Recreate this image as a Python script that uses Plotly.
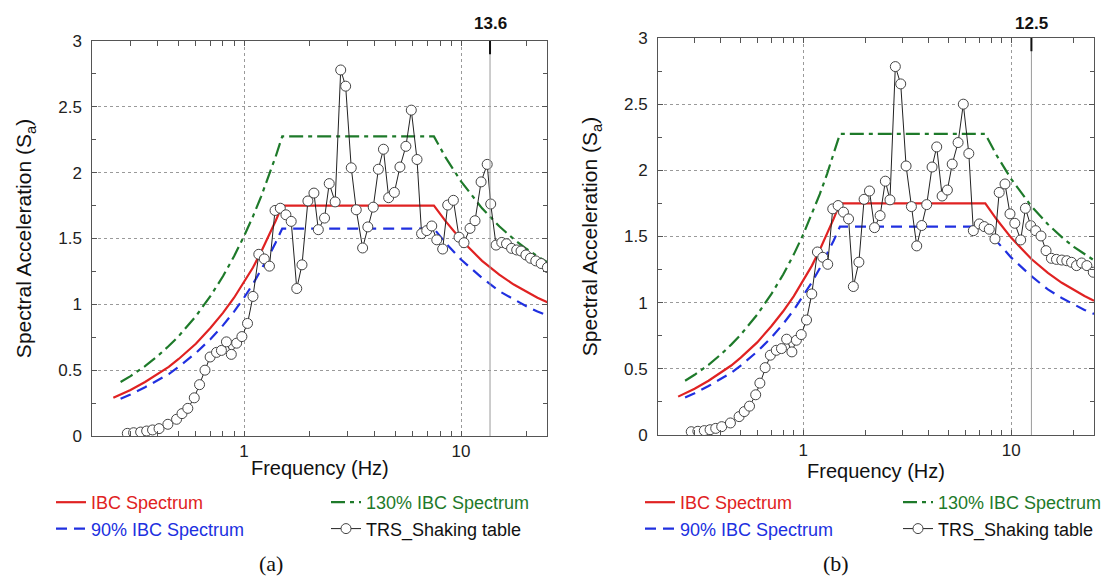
import math

import plotly.graph_objects as go

# ---- values -----------------------------------------------------------------
# IBC design spectrum (frequency in Hz, spectral acceleration Sa)
ibc_freq = [0.25, 0.3, 0.35, 0.4, 0.45, 0.5, 0.6, 0.7, 0.8, 0.9, 1.0, 1.1, 1.2, 1.3, 1.4, 1.5,
            7.5, 8.5, 10, 12.5, 15, 17.5, 20, 22.5, 25]
ibc_sa = [0.29, 0.35, 0.41, 0.47, 0.525, 0.585, 0.70, 0.82, 0.935, 1.05, 1.17, 1.28, 1.40, 1.52, 1.635, 1.75,
          1.75, 1.63, 1.49, 1.33, 1.225, 1.15, 1.095, 1.05, 1.015]

ibc90_freq = [0.27, 0.3, 0.35, 0.4, 0.45, 0.5, 0.6, 0.7, 0.8, 0.9, 1.0, 1.1, 1.2, 1.3, 1.4, 1.5,
              7.5, 8.5, 10, 12.5, 15, 17.5, 20, 22.5, 25]
ibc90_sa = [0.283, 0.315, 0.37, 0.42, 0.47, 0.525, 0.63, 0.735, 0.84, 0.945, 1.05, 1.155, 1.26, 1.365, 1.47, 1.575,
            1.575, 1.465, 1.34, 1.2, 1.10, 1.035, 0.985, 0.945, 0.915]

ibc130_freq = [0.27, 0.3, 0.35, 0.4, 0.45, 0.5, 0.6, 0.7, 0.8, 0.9, 1.0, 1.1, 1.2, 1.3, 1.4, 1.5,
               7.5, 8.5, 10, 12.5, 15, 17.5, 20, 22.5, 25]
ibc130_sa = [0.41, 0.455, 0.53, 0.607, 0.683, 0.758, 0.91, 1.062, 1.213, 1.365, 1.517, 1.668, 1.82, 1.972, 2.123, 2.275,
             2.275, 2.114, 1.934, 1.729, 1.593, 1.495, 1.422, 1.365, 1.32]

# test response spectrum, panel (a)
trs_a_freq = [0.290, 0.310, 0.334, 0.356, 0.379, 0.406, 0.446, 0.489, 0.518, 0.551,
              0.590, 0.624, 0.661, 0.698, 0.747, 0.787, 0.830, 0.874, 0.925, 0.978,
              1.038, 1.10, 1.17, 1.24, 1.31, 1.39, 1.47, 1.56, 1.65, 1.75,
              1.85, 1.97, 2.10, 2.20, 2.35, 2.47, 2.63, 2.79, 2.94, 3.12,
              3.29, 3.52, 3.72, 3.94, 4.16, 4.39, 4.64, 4.93, 5.23, 5.57,
              5.90, 6.27, 6.58, 6.95, 7.33, 7.73, 8.23, 8.68, 9.22, 9.79,
              10.32, 11.0, 11.6, 12.37, 13.2, 13.7, 14.5, 15.4, 16.2, 17.1,
              18.05, 18.9, 19.9, 20.9, 22.1, 23.4, 25.0]
trs_a_sa = [0.02, 0.025, 0.03, 0.038, 0.046, 0.056, 0.089, 0.127, 0.17, 0.21,
            0.29, 0.39, 0.50, 0.60, 0.635, 0.65, 0.715, 0.62, 0.705, 0.755,
            0.855, 1.06, 1.38, 1.345, 1.29, 1.713, 1.73, 1.68, 1.63, 1.12,
            1.30, 1.785, 1.845, 1.567, 1.655, 1.917, 1.778, 2.78, 2.657, 2.037,
            1.718, 1.428, 1.588, 1.738, 2.026, 2.178, 1.81, 1.85, 2.043, 2.20,
            2.475, 2.10, 1.537, 1.56, 1.595, 1.49, 1.42, 1.754, 1.79, 1.51,
            1.468, 1.577, 1.635, 1.93, 2.063, 1.762, 1.45, 1.47, 1.46, 1.425,
            1.413, 1.405, 1.375, 1.35, 1.33, 1.31, 1.28]

# test response spectrum, panel (b)
trs_b_freq = [0.289, 0.311, 0.334, 0.356, 0.379, 0.405, 0.446, 0.491, 0.520, 0.551,
              0.590, 0.618, 0.655, 0.694, 0.741, 0.785, 0.831, 0.881, 0.926, 0.977,
              1.036, 1.098, 1.169, 1.24, 1.31, 1.385, 1.47, 1.56, 1.65, 1.74,
              1.85, 1.96, 2.08, 2.20, 2.34, 2.48, 2.61, 2.77, 2.94, 3.12,
              3.31, 3.51, 3.71, 3.92, 4.16, 4.38, 4.65, 4.93, 5.20, 5.55,
              5.88, 6.25, 6.57, 7.02, 7.41, 7.84, 8.35, 8.75, 9.33, 9.86,
              10.4, 11.1, 11.7, 12.4, 13.1, 13.9, 14.7, 15.6, 16.5, 17.5,
              18.5, 19.5, 20.6, 21.8, 23.1, 24.8]
trs_b_sa = [0.025, 0.028, 0.033, 0.04, 0.05, 0.063, 0.091, 0.139, 0.177, 0.218,
            0.304, 0.392, 0.509, 0.603, 0.64, 0.653, 0.724, 0.628, 0.716, 0.759,
            0.869, 1.066, 1.383, 1.343, 1.29, 1.709, 1.734, 1.684, 1.633, 1.122,
            1.306, 1.781, 1.844, 1.567, 1.658, 1.918, 1.777, 2.784, 2.653, 2.033,
            1.726, 1.429, 1.583, 1.741, 2.025, 2.177, 1.806, 1.851, 2.047, 2.21,
            2.50, 2.127, 1.544, 1.595, 1.575, 1.555, 1.482, 1.833, 1.897, 1.671,
            1.60, 1.474, 1.713, 1.582, 1.544, 1.504, 1.393, 1.335, 1.327, 1.322,
            1.317, 1.305, 1.28, 1.30, 1.28, 1.23]

marker_freq = [13.6, 12.5]
marker_labels = ["13.6", "12.5"]
panel_labels = ["(a)", "(b)"]
x_major = [1, 10]
x_minor = [0.2, 0.3, 0.4, 0.5, 0.6, 0.7, 0.8, 0.9, 2, 3, 4, 5, 6, 7, 8, 9, 20]
y_ticks = [0, 0.5, 1, 1.5, 2, 2.5, 3]

# ---- styling / layout --------------------------------------------------------
W, H = 1105, 576
FONT = "Arial, Liberation Sans, sans-serif"
RED, BLUE, GREEN = "#e02222", "#2030e0", "#1e7a2a"

# pixel frames of the two plot areas: left, right, bottom (Sa=0), top (Sa=3)
frames = [(92.3, 547.4, 436, 41), (658, 1094, 435, 38)]
legend_px = [(51, 326), (640, 898)]
label_px = [271, 836]
trs_sets = [(trs_a_freq, trs_a_sa), (trs_b_freq, trs_b_sa)]


def px_x(v):
    return v / W


def px_y(v):
    return 1 - v / H


def name(txt, col):
    return f'<span style="color:{col}">{txt}</span>'


fig = go.Figure()

for i, (l, r, b, t) in enumerate(frames):
    sfx = "" if i == 0 else "2"
    xa, ya = "x" + sfx, "y" + sfx
    leg1 = "legend" if i == 0 else "legend3"
    leg2 = "legend2" if i == 0 else "legend4"

    fig.add_trace(go.Scatter(x=ibc_freq, y=ibc_sa, mode="lines", xaxis=xa, yaxis=ya,
                             line=dict(color=RED, width=2.2), legend=leg1,
                             name=name("IBC Spectrum", RED)))
    fig.add_trace(go.Scatter(x=ibc90_freq, y=ibc90_sa, mode="lines", xaxis=xa, yaxis=ya,
                             line=dict(color=BLUE, width=2.2, dash="11px,7px"), legend=leg1,
                             name=name("90% IBC Spectrum", BLUE)))
    fig.add_trace(go.Scatter(x=ibc130_freq, y=ibc130_sa, mode="lines", xaxis=xa, yaxis=ya,
                             line=dict(color=GREEN, width=2.2, dash="14px,5px,4px,5px"), legend=leg2,
                             name=name("130% IBC Spectrum", GREEN)))
    fx, fy = trs_sets[i]
    fig.add_trace(go.Scatter(x=fx, y=fy, mode="lines+markers", xaxis=xa, yaxis=ya,
                             line=dict(color="#222222", width=1),
                             marker=dict(symbol="circle", size=10, color="white",
                                         line=dict(color="#444444", width=1)),
                             legend=leg2, name="TRS_Shaking table"))

    axis_common = dict(showline=True, linecolor="#555555", linewidth=1, mirror="ticks",
                       ticks="inside", ticklen=5, tickcolor="#555555", automargin=False,
                       tickfont=dict(family=FONT, size=17, color="#222222"),
                       zeroline=False)
    fig.layout["xaxis" + sfx] = dict(
        axis_common, type="log", domain=[px_x(l), px_x(r)], anchor=ya,
        range=[math.log10(0.2), math.log10(25)], tickmode="array", tickvals=x_major,
        ticktext=[str(v) for v in x_major], showgrid=True, gridcolor="#9a9a9a",
        gridwidth=1, griddash="dot",
        minor=dict(tickmode="array", tickvals=x_minor, ticks="inside", ticklen=5,
                   tickcolor="#555555", showgrid=False),
        title=dict(text="Frequency (Hz)", font=dict(family=FONT, size=20, color="#111111"),
                   standoff=0),
    )
    fig.layout["yaxis" + sfx] = dict(
        axis_common, domain=[px_y(b), px_y(t)], anchor=xa, range=[0, 3],
        tickmode="array", tickvals=y_ticks, ticktext=[f"{v:g}" for v in y_ticks],
        showgrid=True, gridcolor="#9a9a9a", gridwidth=1, griddash="dot",
        ticklabelstandoff=6,
        minor=dict(dtick=0.25, ticks="inside", ticklen=4, tickcolor="#555555", showgrid=False),
        title=dict(text="Spectral Acceleration (S<sub>a</sub>)",
                   font=dict(family=FONT, size=21, color="#111111"), standoff=20),
    )

    # marked frequency: thin gray line, short black bar at the top and bold label
    mf = marker_freq[i]
    fig.add_shape(type="line", xref=xa, yref=ya, x0=mf, x1=mf, y0=0, y1=3,
                  line=dict(color="#9a9a9a", width=1))
    fig.add_shape(type="line", xref=xa, yref=ya, x0=mf, x1=mf, y0=3, y1=2.9,
                  line=dict(color="#111111", width=2))
    fig.add_annotation(x=math.log10(mf), xref=xa, y=px_y(23), yref="paper",
                       xanchor="center", yanchor="middle",
                       text=f"<b>{marker_labels[i]}</b>", showarrow=False,
                       font=dict(family=FONT, size=17, color="#111111"))
    fig.add_annotation(x=px_x(label_px[i]), xref="paper", y=px_y(563), yref="paper",
                       xanchor="center", yanchor="middle",
                       text=panel_labels[i], showarrow=False,
                       font=dict(family="Times New Roman, Liberation Serif, serif", size=22,
                                 color="#111111"))

legend_common = dict(xanchor="left", yanchor="top", orientation="v", bgcolor="rgba(0,0,0,0)",
                     font=dict(family=FONT, size=18, color="#111111"), itemwidth=30,
                     tracegroupgap=0, borderwidth=0)
legend_top = px_y(484)
fig.update_layout(
    width=W, height=H, margin=dict(l=0, r=0, t=0, b=0, autoexpand=False),
    paper_bgcolor="white", plot_bgcolor="white", showlegend=True,
    legend=dict(legend_common, x=px_x(legend_px[0][0]), y=legend_top),
    legend2=dict(legend_common, x=px_x(legend_px[0][1]), y=legend_top),
    legend3=dict(legend_common, x=px_x(legend_px[1][0]), y=legend_top),
    legend4=dict(legend_common, x=px_x(legend_px[1][1]), y=legend_top),
)

# the page body's default margin would push the figure out of the window
fig.write_html("out.html", config={"displayModeBar": False},
               post_script="document.body.style.margin='0';")
